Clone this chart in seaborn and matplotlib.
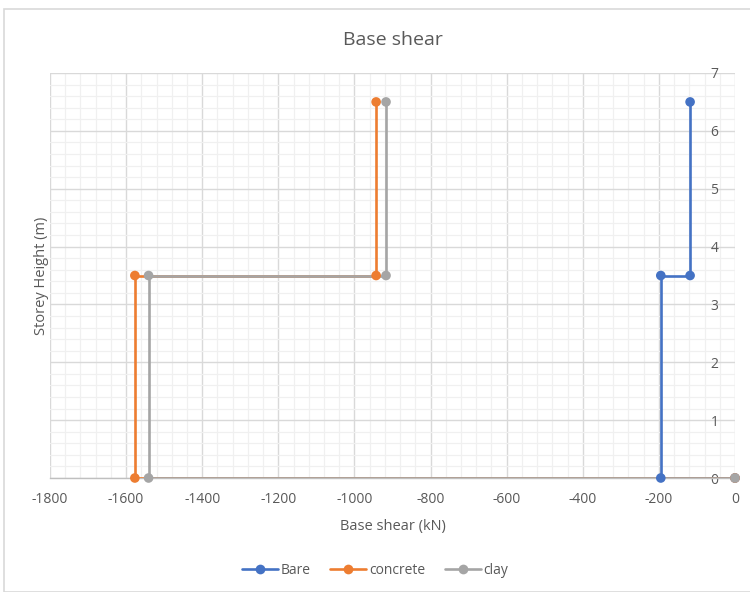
import matplotlib
matplotlib.use("Agg")
import matplotlib.pyplot as plt
from matplotlib.lines import Line2D
from matplotlib.patches import Rectangle
from matplotlib.ticker import MultipleLocator
import pandas as pd
import seaborn as sns

# Storey height profile (m) and base shear per wall type (kN)
heights = [0, 0, 3.5, 3.5, 6.5]
bare = [0, -195, -195, -118, -118]
concrete = [0, -1577, -1577, -943, -943]
clay = [0, -1541, -1541, -917, -917]

series_names = ["Bare", "concrete", "clay"]
series_values = [bare, concrete, clay]
palette = {"Bare": "#4472C4", "concrete": "#ED7D31", "clay": "#A5A5A5"}

x_ticks = list(range(-1800, 1, 200))
y_ticks = list(range(0, 8))

rows = []
for name, vals in zip(series_names, series_values):
    for v, h in zip(vals, heights):
        rows.append({"series": name, "shear": v, "height": h})
df = pd.DataFrame(rows)

sns.set_theme(style="white")
plt.rcParams["font.family"] = ["Open Sans", "DejaVu Sans"]
plt.rcParams["axes.unicode_minus"] = False

fig = plt.figure(figsize=(7.5, 5.92), dpi=100)
ax = fig.add_axes([50 / 750, 1 - 478 / 592, 685 / 750, 405 / 592])

# chart outline
fig.patches.append(Rectangle((4 / 750, 0), 760 / 750, 1 - 9 / 592,
                             transform=fig.transFigure, fill=False,
                             edgecolor="#D9D9D9", linewidth=1.2, zorder=0))

sns.lineplot(data=df, x="shear", y="height", hue="series", hue_order=series_names,
             palette=palette, sort=False, estimator=None, units="series",
             linewidth=1.9, legend=False, ax=ax, zorder=3)
sns.scatterplot(data=df, x="shear", y="height", hue="series", hue_order=series_names,
                palette=palette, s=48, linewidth=0, legend=False, ax=ax, zorder=4,
                clip_on=False)

ax.set_xlim(-1800, 0)
ax.set_ylim(0, 7)
ax.xaxis.set_minor_locator(MultipleLocator(40))
ax.yaxis.set_minor_locator(MultipleLocator(0.2))
ax.set_xticks(x_ticks)
ax.set_yticks(y_ticks)

ax.grid(which="major", color="#D9D9D9", linewidth=1.0)
ax.grid(which="minor", color="#F0F0F0", linewidth=0.9)
ax.set_axisbelow(True)
for side in ["top", "right", "left"]:
    ax.spines[side].set_visible(False)
ax.spines["bottom"].set_color("#BFBFBF")
ax.spines["bottom"].set_linewidth(1.0)

ax.yaxis.tick_right()
ax.tick_params(axis="y", which="both", length=0, pad=-12, labelsize=10,
               labelcolor="#595959")
for lbl in ax.get_yticklabels():
    lbl.set_horizontalalignment("right")
ax.tick_params(axis="x", which="both", length=0, pad=10, labelsize=10,
               labelcolor="#595959")

ax.set_xlabel("Base shear (kN)", fontsize=10.5, color="#595959", labelpad=9)
ax.yaxis.set_label_position("left")
ax.set_ylabel("Storey Height (m)", fontsize=10.5, color="#595959", labelpad=1)
ax.set_title("Base shear", fontsize=14, color="#595959", pad=20)

handles = [Line2D([0], [0], color=palette[n], linewidth=1.9, marker="o",
                  markersize=7, markeredgewidth=0) for n in series_names]
fig.legend(handles, series_names, loc="center", bbox_to_anchor=(0.5, 1 - 570 / 592),
           ncol=3, frameon=False, fontsize=10, labelcolor="#595959",
           handlelength=2.6, handletextpad=0.2, columnspacing=1.4)

fig.savefig("out.png", dpi=100)
